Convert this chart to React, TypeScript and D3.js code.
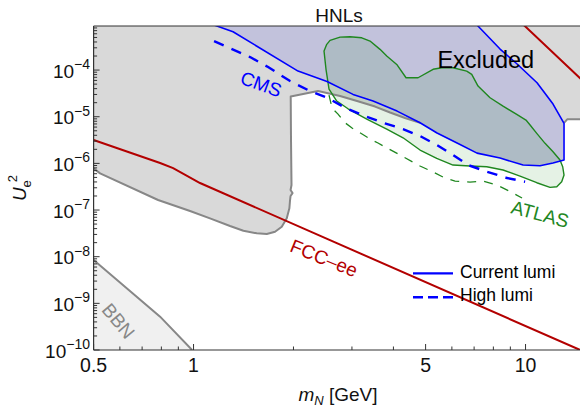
import React from 'react';
import * as d3 from 'd3';

type P = [number, number];

// ---------- data (mass in GeV, mixing U_e^2) ----------
const fccLower: P[] = [[0.5, 3.16e-6], [0.793, 1.02e-6], [0.868, 7.9e-7], [1.046, 3.79e-7], [14.6, 1e-10], [16, 7.5e-11]];
const fccUpper: P[] = [[9.5, 1.2e-3], [14.6, 6.7e-5], [15.6, 4.2e-5]];

const cmsCurrent: P[] = [
  [1.137, 9.58e-4], [1.315, 6.62e-4], [2.064, 9.52e-5], [2.524, 5.67e-5], [3.023, 3.01e-5], [3.473, 2.17e-5],
  [4.102, 1.32e-5], [4.811, 7.43e-6], [5.412, 4.47e-6], [6.219, 2.73e-6], [7.143, 1.66e-6], [8.38, 1.3e-6],
  [9.83, 9.21e-7], [11.06, 8.9e-7], [12.1, 1.02e-6], [13.06, 1.18e-6], [13.06, 7.21e-6], [12.1, 1.87e-5],
  [10.83, 5.35e-5], [9.43, 1.35e-4], [8.38, 2.82e-4], [7.19, 8.77e-4], [7.0, 1.07e-3],
];
const cmsHigh: P[] = [
  [1.153, 4.18e-4], [1.48, 1.9e-4], [1.677, 1.16e-4], [1.953, 5.81e-5], [2.244, 3.55e-5], [2.542, 2.51e-5],
  [2.86, 1.56e-5], [3.286, 1.03e-5], [3.722, 7.43e-6], [4.276, 5.44e-6], [4.811, 3.85e-6], [5.412, 2.47e-6],
  [6.047, 1.51e-6], [6.712, 9.21e-7], [7.656, 6.62e-7], [8.8, 4.85e-7], [9.97, 4.04e-7],
];
const atlasCurrent: P[] = [
  [2.472, 2.55e-4], [2.519, 3.56e-4], [2.577, 4.33e-4], [2.763, 5.09e-4], [2.96, 5.17e-4], [3.211, 4.92e-4],
  [3.401, 4.18e-4], [3.645, 2.78e-4], [3.819, 2.0e-4], [4.093, 1.32e-4], [4.366, 6.84e-5], [4.746, 6.84e-5],
  [5.266, 1.04e-4], [5.594, 1.12e-4], [6.047, 1.12e-4], [6.65, 9.52e-5], [6.886, 8.09e-5], [7.193, 4.54e-5],
  [7.818, 2.55e-5], [8.556, 1.69e-5], [9.408, 1.12e-5], [10.03, 8.48e-6], [10.32, 6.63e-6], [10.81, 4.4e-6],
  [11.45, 2.69e-6], [12.1, 1.78e-6], [12.7, 1.18e-6], [12.94, 8.47e-7], [13.06, 5.62e-7], [12.85, 4.04e-7],
  [12.42, 3.16e-7], [11.85, 3.06e-7], [10.81, 3.85e-7], [9.625, 5.35e-7], [8.556, 7.2e-7], [7.64, 8.47e-7],
  [6.804, 8.77e-7], [6.047, 9.21e-7], [5.401, 1.28e-6], [4.811, 1.93e-6], [4.276, 3.54e-6], [3.819, 5.44e-6],
  [3.325, 8.91e-6], [2.92, 1.48e-5], [2.7, 2.17e-5], [2.559, 3.92e-5], [2.506, 1.04e-4],
];
const atlasHigh: P[] = [
  [2.559, 2.91e-5], [2.614, 1.53e-5], [2.724, 1.14e-5], [2.86, 7.43e-6], [3.002, 5.72e-6], [3.218, 4.25e-6],
  [3.401, 3.32e-6], [3.594, 2.73e-6], [3.826, 2.13e-6], [4.188, 1.51e-6], [4.811, 8.77e-7], [5.266, 6.52e-7],
  [5.722, 4.85e-7], [6.134, 4.18e-7], [6.804, 3.98e-7], [7.447, 4.18e-7], [8.21, 3.43e-7], [8.98, 2.49e-7],
  [9.76, 1.81e-7],
];
// excluded (grey) region: right edge part, then the part left of where it joins the CMS curve
const excludedRight: P[] = [[16, 8.8e-6], [13.35, 8.8e-6], [13.06, 7.4e-6]];
const excludedLeft: P[] = [
  [4.811, 7.43e-6], [4.335, 9.36e-6], [3.908, 1.23e-5], [3.522, 1.65e-5], [3.108, 2.17e-5], [2.763, 2.77e-5],
  [2.371, 3.55e-5], [1.962, 2.71e-5], [1.966, 3.16e-6], [1.973, 3.43e-7], [1.96, 2.68e-7], [1.987, 2.31e-7],
  [1.96, 2.0e-7], [1.953, 1.64e-7], [1.944, 1.09e-7], [1.909, 6.64e-8], [1.844, 4.39e-8], [1.76, 3.43e-8],
  [1.662, 3.06e-8], [1.55, 3.17e-8], [1.413, 3.6e-8], [1.288, 4.54e-8], [1.121, 6.64e-8], [0.976, 9.52e-8],
  [0.782, 1.64e-7], [0.523, 6.11e-7], [0.5, 7.83e-7],
];
// shared lower edge with CMS (from 13.06 GeV back to 4.81 GeV)
const excludedShared: P[] = [
  [13.06, 1.18e-6], [12.1, 1.02e-6], [11.06, 8.9e-7], [9.83, 9.21e-7], [8.38, 1.3e-6], [7.143, 1.66e-6],
  [6.219, 2.73e-6], [5.412, 4.47e-6],
];
const bbnBoundary: P[] = [[0.5, 8.48e-9], [0.793, 5.18e-10], [0.99, 1e-10]];

const xMajorTicks = [0.5, 1, 5, 10];
const xMinorTicks = [0.6, 0.7, 0.8, 0.9, 2, 3, 4, 6, 7, 8, 9];
const yDecades = [-10, -9, -8, -7, -6, -5, -4];

const labels = {
  cms: { m: 1.597, u: 5.0e-5, text: 'CMS', angle: 20 },
  atlas: { m: 11.06, u: 8.2e-8, text: 'ATLAS', angle: 15 },
  fcc: { m: 2.472, u: 9.36e-9, text: 'FCC\u2013ee', angle: 22 },
  bbn: { m: 0.594, u: 4.18e-10, text: 'BBN', angle: 50 },
};

const W = 580, H = 409;
const L = 93.6, R = 584, T = 26, B = 350;
const FONT = "'Liberation Sans', Arial, Helvetica, sans-serif";

export default function App() {
  const x = d3.scaleLog().domain([0.5, 15]).range([L, R]);
  const y = d3.scaleLog().domain([1e-10, 8.8e-4]).range([B, T]);
  const line = d3.line<P>().x(d => x(d[0])).y(d => y(d[1]));
  const closed = (pts: P[]) => line(pts) + 'Z';

  const grayPoly: P[] = [[0.5, 1.2e-3], [16, 1.2e-3], ...excludedRight, ...excludedShared, ...excludedLeft];
  const bbnPoly: P[] = [...bbnBoundary, [0.45, 1e-10], [0.45, 8.48e-9]];

  const yMinor: number[] = [];
  yDecades.forEach(d => {
    for (let k = 2; k <= 9; k++) {
      const v = k * Math.pow(10, d);
      if (v < 8.8e-4) yMinor.push(v);
    }
  });

  const red = '#b30000';
  const blue = '#0000ff';
  const green = '#1f871f';
  const gray = '#878787';
  const frame = '#333';

  const lbl = (k: keyof typeof labels, color: string, size = 19) => {
    const l = labels[k];
    const px = x(l.m), py = y(l.u);
    return (
      <text key={k} transform={`translate(${px},${py}) rotate(${l.angle})`} textAnchor="middle" dy="0.35em"
        fontSize={size} fill={color} fontFamily={FONT}>{l.text}</text>
    );
  };

  return (
    <svg width={W} height={H} style={{ position: 'absolute', left: 0, top: 0, background: '#fff' }}
      fontFamily={FONT}>
      <defs>
        <clipPath id="plot"><rect x={L} y={T} width={R - L} height={B - T} /></clipPath>
      </defs>
      <rect x={0} y={0} width={W} height={H} fill="#fff" />
      <g clipPath="url(#plot)">
        <path d={closed(grayPoly)} fill="#d9d9d9" />
        <path d={closed(bbnPoly)} fill="#f0f0f0" />
        <path d={closed(cmsCurrent)} fill={blue} fillOpacity={0.1} />
        <path d={closed(atlasCurrent)} fill="#008000" fillOpacity={0.1} />
        <path d={line(excludedRight)!} fill="none" stroke={gray} strokeWidth={2} strokeLinejoin="round" />
        <path d={line(excludedLeft)!} fill="none" stroke={gray} strokeWidth={2} strokeLinejoin="round" />
        <path d={line(bbnBoundary)!} fill="none" stroke={gray} strokeWidth={2} />
        <path d={line(fccLower)!} fill="none" stroke={red} strokeWidth={2} />
        <path d={line(fccUpper)!} fill="none" stroke={red} strokeWidth={2} />
        <path d={closed(atlasCurrent)} fill="none" stroke={green} strokeWidth={1.4} strokeLinejoin="round" />
        <path d={line(atlasHigh)!} fill="none" stroke={green} strokeWidth={1.3} strokeDasharray="9,8" />
        <path d={line(cmsCurrent)!} fill="none" stroke={blue} strokeWidth={1.6} strokeLinejoin="round" />
        <path d={line(cmsHigh)!} fill="none" stroke={blue} strokeWidth={2.4} strokeDasharray="10.5,8.5" />
      </g>

      {/* annotations */}
      <text x={x(7.59)} y={y(1.12e-4)} textAnchor="middle" fontSize={23.5} fill="#000">Excluded</text>
      {lbl('cms', blue)}
      {lbl('atlas', green)}
      {lbl('fcc', red)}
      {lbl('bbn', gray)}

      {/* legend */}
      <line x1={413} x2={453} y1={273.3} y2={273.3} stroke={blue} strokeWidth={2.2} />
      <text x={460} y={277.5} fontSize={17.5} fill="#000">Current lumi</text>
      <line x1={413} x2={453} y1={297.3} y2={297.3} stroke={blue} strokeWidth={2.4} strokeDasharray="10,5" />
      <text x={460} y={301} fontSize={17.5} fill="#000">High lumi</text>

      {/* frame */}
      <line x1={L} x2={R} y1={T} y2={T} stroke={frame} strokeWidth={1.2} />
      <line x1={L} x2={R} y1={B} y2={B} stroke={frame} strokeWidth={1.2} />
      <line x1={L} x2={L} y1={T} y2={B} stroke={frame} strokeWidth={1.2} />

      {/* x ticks */}
      {xMajorTicks.map(t => (
        <g key={'xM' + t}>
          <line x1={x(t)} x2={x(t)} y1={B} y2={B - 6} stroke={frame} strokeWidth={1} />
          <text x={x(t)} y={371.5} textAnchor="middle" fontSize={19.5} fill="#111">{t}</text>
        </g>
      ))}
      {xMinorTicks.map(t => (
        <line key={'xm' + t} x1={x(t)} x2={x(t)} y1={B} y2={B - 3.5} stroke={frame} strokeWidth={1} />
      ))}

      {/* y ticks */}
      {yDecades.map(d => {
        const v = Math.pow(10, d);
        const py = y(v);
        return (
          <g key={'yM' + d}>
            <line x1={L} x2={L + 6} y1={py} y2={py} stroke={frame} strokeWidth={1} />
            <text x={90} y={py + 7.5} textAnchor="end" fontSize={19} fill="#111">
              10<tspan dy={-8.5} fontSize={14}>{'\u2212' + Math.abs(d)}</tspan>
            </text>
          </g>
        );
      })}
      {yMinor.map((v, i) => (
        <line key={'ym' + i} x1={L} x2={L + 3.5} y1={y(v)} y2={y(v)} stroke={frame} strokeWidth={1} />
      ))}

      {/* titles */}
      <text x={339} y={21.5} textAnchor="middle" fontSize={19} fill="#111">HNLs</text>
      <text x={338} y={401} textAnchor="middle" fontSize={19} fill="#111">
        <tspan fontStyle="italic">m</tspan>
        <tspan fontStyle="italic" fontSize={13} dy={3.5}>N</tspan>
        <tspan dy={-3.5}> [GeV]</tspan>
      </text>
      <text transform="translate(25.5,188) rotate(-90)" textAnchor="middle" fontSize={19} fill="#111">
        <tspan fontStyle="italic">U</tspan>
        <tspan fontSize={13} dy={5}>e</tspan>
        <tspan fontSize={13} dx={-2} dy={-14}>2</tspan>
      </text>
    </svg>
  );
}
